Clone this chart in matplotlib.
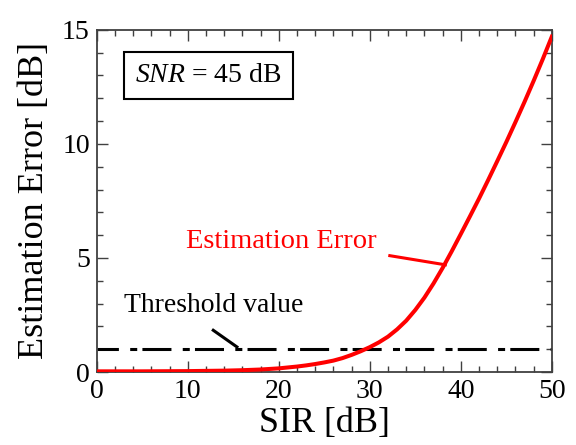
import matplotlib
matplotlib.use("Agg")
import matplotlib.pyplot as plt
from matplotlib.ticker import MultipleLocator

plt.rcParams['font.family'] = ['Liberation Serif', 'DejaVu Serif']
plt.rcParams['mathtext.fontset'] = 'custom'
plt.rcParams['mathtext.rm'] = 'Liberation Serif'
plt.rcParams['mathtext.it'] = 'Liberation Serif:italic'

# data
sir = [0, 5, 10, 12, 14, 16, 18, 20, 21, 22, 23, 24, 25, 26, 27, 28, 29, 30,
       31, 32, 33, 34, 35, 36, 37, 38, 39, 40, 41, 42, 43, 44, 45, 46, 47,
       48, 49, 50]
est_err = [0.03, 0.03, 0.04, 0.05, 0.06, 0.08, 0.11, 0.16, 0.20, 0.24, 0.29,
           0.35, 0.42, 0.50, 0.61, 0.75, 0.91, 1.09, 1.30, 1.55, 1.87, 2.25,
           2.72, 3.26, 3.88, 4.56, 5.29, 6.05, 6.82, 7.60, 8.41, 9.24, 10.08,
           10.95, 11.84, 12.76, 13.71, 14.70]
threshold = 1.0
snr_db = 45

fig = plt.figure(figsize=(5.76, 4.45), dpi=100)
ax = fig.add_axes([0.168, 0.164, 0.79, 0.769])

ax.plot(sir, est_err, color='#ff0000', lw=2.9, solid_joinstyle='round', zorder=3)
ax.plot([0, 50], [threshold, threshold], color='black', lw=2.2,
        linestyle=(2.5, (9.5, 3.7, 2.3, 1.7)), zorder=2)

ax.set_xlim(0, 50)
ax.set_ylim(0, 15)
ax.xaxis.set_major_locator(MultipleLocator(10))
ax.xaxis.set_minor_locator(MultipleLocator(2))
ax.yaxis.set_major_locator(MultipleLocator(5))
ax.yaxis.set_minor_locator(MultipleLocator(1))
ax.tick_params(which='both', direction='in', top=True, right=True,
               color='#404040', width=1.0)
ax.tick_params(which='major', length=8, labelsize=20, pad=5)
ax.tick_params(which='minor', length=4.5)
for sp in ax.spines.values():
    sp.set_color('#404040')
    sp.set_linewidth(1.3)

ax.set_xlabel('SIR [dB]', fontsize=26, labelpad=2)
ax.set_ylabel('Estimation Error [dB]', fontsize=26, labelpad=8)

# annotations
ax.text(20.3, 5.7, 'Estimation Error', color='#ff0000', fontsize=20.5,
        ha='center', va='center')
ax.plot([32.2, 38.3], [5.1, 4.7], color='#ff0000', lw=2.2)
ax.text(12.9, 2.9, 'Threshold value', color='black', fontsize=20,
        ha='center', va='center')
ax.plot([12.8, 15.4], [1.83, 1.1], color='black', lw=2.2)

ax.text(0.245, 0.866, '$SNR$ = %d dB' % snr_db, transform=ax.transAxes,
        fontsize=20, ha='center', va='center',
        bbox=dict(boxstyle='square,pad=0.4', fc='white', ec='black', lw=1.5))

fig.savefig('out.png', dpi=100)
